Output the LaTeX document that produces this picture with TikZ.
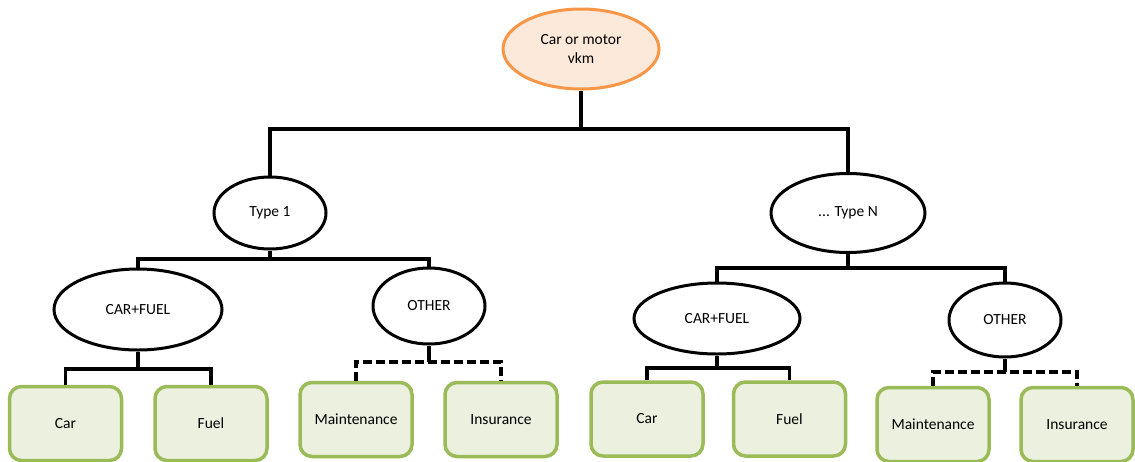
\documentclass[tikz,border=0pt]{standalone}
\usepackage{fontspec}
\setmainfont{Carlito}
\usetikzlibrary{shapes.geometric}
\definecolor{rootfill}{HTML}{FDE9D9}
\definecolor{rootline}{HTML}{F79646}
\definecolor{leaffill}{HTML}{EBF1DE}
\definecolor{leafline}{HTML}{9BBB59}
\tikzset{
  oval/.style 2 args={ellipse, draw=black, line width=3pt, fill=white, inner sep=0pt,
    minimum width=#1pt, minimum height=#2pt, font=\fontsize{15.5}{19}\selectfont},
  rootoval/.style={oval={156}{80}, draw=rootline, fill=rootfill, align=center},
  leaf/.style={rectangle, rounded corners=12pt, draw=leafline, fill=leaffill, line width=3.5pt,
    minimum width=112pt, minimum height=74pt, inner sep=0pt, font=\fontsize{15.5}{19}\selectfont},
  link/.style={line width=3.2pt, line join=miter},
  optlink/.style={link, dash pattern=on 9pt off 4pt},
}
\begin{document}
\begin{tikzpicture}[x=1pt, y=-1pt]
\useasboundingbox (0,0) rectangle (1135,461);

% root
\node[rootoval] (top) at (581,49) {Car or motor\\vkm};

% vehicle types
\node[oval={112}{72}] (t1) at (270,213) {Type 1};
\node[oval={154}{79}] (tN) at (848,213) {... Type N};

% cost groups
\node[oval={168}{81}] (cf1) at (138,309.5) {CAR+FUEL};
\node[oval={112}{76}] (ot1) at (429,306) {OTHER};
\node[oval={166}{71}] (cf2) at (717,318.5) {CAR+FUEL};
\node[oval={112}{74}] (ot2) at (1005,320) {OTHER};

% cost items
\node[leaf] (car1) at (65.5,423.5) {Car};
\node[leaf] (fuel1) at (211,423.5) {Fuel};
\node[leaf] (mnt1) at (356,419.5) {Maintenance};
\node[leaf] (ins1) at (501,419.5) {Insurance};
\node[leaf] (car2) at (647,419) {Car};
\node[leaf] (fuel2) at (789.5,419) {Fuel};
\node[leaf] (mnt2) at (933,424.5) {Maintenance};
\node[leaf] (ins2) at (1077,424.5) {Insurance};

% bar levels
\coordinate (b0) at (0,129);
\coordinate (b1) at (0,259);
\coordinate (bN) at (0,268);
\coordinate (bc1) at (0,369);
\coordinate (bo1) at (0,362);
\coordinate (bc2) at (0,368);
\coordinate (bo2) at (0,372);

% connectors
\draw[link] (top.south) -- (top.south |- b0);
\draw[link] (t1.north) -- (t1.north |- b0) -- (tN.north |- b0) -- (tN.north);

\draw[link] (t1.south) -- (t1.south |- b1);
\draw[link] (cf1.north) -- (cf1.north |- b1) -- (ot1.north |- b1) -- (ot1.north);

\draw[link] (tN.south) -- (tN.south |- bN);
\draw[link] (cf2.north) -- (cf2.north |- bN) -- (ot2.north |- bN) -- (ot2.north);

\draw[link] (cf1.south) -- (cf1.south |- bc1);
\draw[link] (car1.north) -- (car1.north |- bc1) -- (fuel1.north |- bc1) -- (fuel1.north);

\draw[link] (cf2.south) -- (cf2.south |- bc2);
\draw[link] (car2.north) -- (car2.north |- bc2) -- (fuel2.north |- bc2) -- (fuel2.north);

\draw[link] (ot1.south) -- (ot1.south |- bo1);
\draw[optlink] (mnt1.north) -- (mnt1.north |- bo1) -- (ins1.north |- bo1) -- (ins1.north);

\draw[link] (ot2.south) -- (ot2.south |- bo2);
\draw[optlink] (mnt2.north) -- (mnt2.north |- bo2) -- (ins2.north |- bo2) -- (ins2.north);
\end{tikzpicture}
\end{document}
